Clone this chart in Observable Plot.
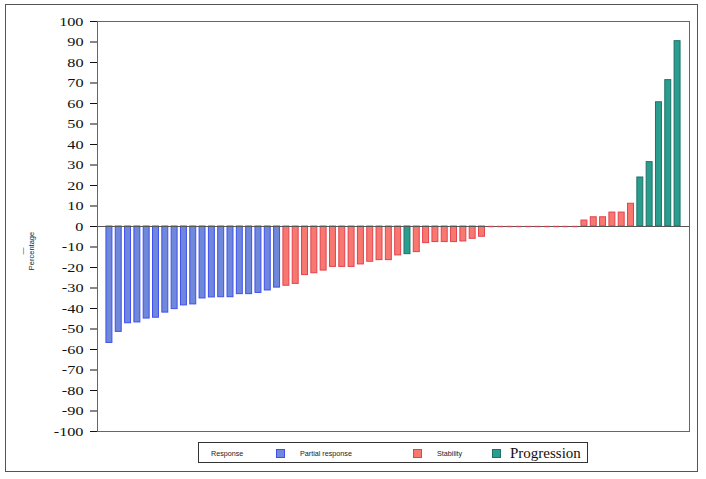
<!DOCTYPE html>
<html>
<head>
<meta charset="utf-8">
<script src="https://cdn.jsdelivr.net/npm/d3@7"></script>
<script src="https://cdn.jsdelivr.net/npm/@observablehq/plot@0.6"></script>
<style>
  html, body { margin: 0; padding: 0; background: #fff; }
  #wrap { position: relative; width: 706px; height: 479px; overflow: hidden; background: #fff; }
  #chart svg text { font-family: "Liberation Serif", "Times New Roman", serif !important; font-size: 12.5px !important; fill: #111; }
  #border { position: absolute; left: 5px; top: 4px; width: 693px; height: 468px; border: 1.5px solid #555; box-sizing: border-box; pointer-events: none; }
  #ylabel { position: absolute; left: 31px; top: 251px; transform: translate(-50%, -50%) rotate(-90deg); font: 7.5px "Liberation Sans", Arial, sans-serif; color: #222; white-space: nowrap; }
  #ydash { position: absolute; left: 22px; top: 251px; transform: translate(-50%, -50%) rotate(-90deg); font: 7px "Liberation Sans", Arial, sans-serif; color: #333; }
  #legend { position: absolute; left: 198px; top: 442px; width: 390px; height: 21px; border: 1.5px solid #333; box-sizing: border-box; font-family: "Liberation Sans", Arial, sans-serif; font-size: 7.2px; color: #222; }
  #legend .it { position: absolute; top: 50%; transform: translateY(-50%); white-space: nowrap; }
  #legend .sw { position: absolute; top: 5.5px; width: 9px; height: 9px; box-sizing: border-box; border: 1px solid; }
  #legend .big { font-family: "Liberation Serif", "Times New Roman", serif; font-size: 15px; color: #111; }
</style>
</head>
<body>
<div id="wrap">
  <div id="chart"></div>
  <div id="border"></div>
  <div id="ydash">—</div>
  <div id="ylabel">Percentage</div>
  <div id="legend"></div>
</div>
<script>
// ---- data ----
const categories = ["Partial response", "Stability", "Progression"];
const fills   = ["#6f88d9", "#f7786f", "#2b9d8f"];
const strokes = ["#3f4ff0", "#e4414f", "#1d7267"];

const values = [
  -56.8, -51.4, -47.2, -46.8, -44.9, -44.5, -42.0, -40.3, -38.5, -38.0,
  -35.1, -34.6, -34.5, -34.5, -33.0, -33.0, -32.4, -31.2, -29.8,
  -28.9, -28.0, -23.7, -22.8, -21.5, -19.7, -19.7, -19.7, -18.5, -17.2,
  -16.4, -16.4, -14.1,
  -13.5,
  -12.5, -8.1, -7.6, -7.6, -7.6, -7.3, -6.0, -5.0,
  0, 0, 0, 0, 0, 0, 0, 0, 0, 0,
  2.9, 4.5, 4.5, 6.8, 6.8, 11.1,
  23.9, 31.4, 60.6, 71.4, 90.4
];
const responses = [
  "P","P","P","P","P","P","P","P","P","P","P","P","P","P","P","P","P","P","P",
  "S","S","S","S","S","S","S","S","S","S","S","S","S",
  "G",
  "S","S","S","S","S","S","S","S",
  "S","S","S","S","S","S","S","S","S","S",
  "S","S","S","S","S","S",
  "G","G","G","G","G"
];
const codeToCategory = { P: "Partial response", S: "Stability", G: "Progression" };
const yTicks = [-100, -90, -80, -70, -60, -50, -40, -30, -20, -10, 0, 10, 20, 30, 40, 50, 60, 70, 80, 90, 100];

// ---- build table ----
const data = values.map((v, i) => ({ idx: i, value: v, response: codeToCategory[responses[i]] }));
const nonZero = data.filter(d => d.value !== 0);
const zeros = data.filter(d => d.value === 0);

const chart = Plot.plot({
  width: 706,
  height: 479,
  marginLeft: 97,
  marginRight: 17,
  marginTop: 21,
  marginBottom: 48,
  style: { fontFamily: "'Liberation Serif', 'Times New Roman', serif", fontSize: "12.5px", color: "#111", background: "transparent" },
  x: { type: "band", domain: data.map(d => d.idx), paddingInner: 0.36, paddingOuter: 0.96, round: false, axis: null },
  y: { domain: [-100, 100], ticks: yTicks, tickSize: 7, tickPadding: 7, tickFormat: d => String(d), label: null },
  color: { domain: categories, range: fills },
  marks: [
    Plot.barY(nonZero, {
      x: "idx", y: "value", fill: "response",
      stroke: d => strokes[categories.indexOf(d.response)], strokeWidth: 1
    }),
    Plot.ruleY([0], { stroke: "#555", strokeWidth: 1 }),
    Plot.tickY(zeros, { x: "idx", y: "value", stroke: d => strokes[categories.indexOf(d.response)], strokeWidth: 1.5, strokeOpacity: 0.75 }),
    Plot.frame({ stroke: "#666", strokeWidth: 1 })
  ]
});
document.getElementById("chart").appendChild(chart);

// widen the serif tick labels a little, as in the reference
chart.querySelectorAll('[aria-label="y-axis tick label"] text').forEach(t => {
  const tr = t.getAttribute("transform") || "";
  t.setAttribute("transform", tr + " scale(1.3,1)");
});

// ---- legend ----
const legend = document.getElementById("legend");
const items = [
  { html: `<span class="it" style="left:12px">Response</span>` },
  { html: `<span class="sw" style="left:77px;background:${fills[0]};border-color:${strokes[0]}"></span><span class="it" style="left:101px">${categories[0]}</span>` },
  { html: `<span class="sw" style="left:214px;background:${fills[1]};border-color:${strokes[1]}"></span><span class="it" style="left:238px">${categories[1]}</span>` },
  { html: `<span class="sw" style="left:293px;background:${fills[2]};border-color:${strokes[2]}"></span><span class="it big" style="left:311px">${categories[2]}</span>` }
];
legend.innerHTML = items.map(d => d.html).join("");
</script>
</body>
</html>
